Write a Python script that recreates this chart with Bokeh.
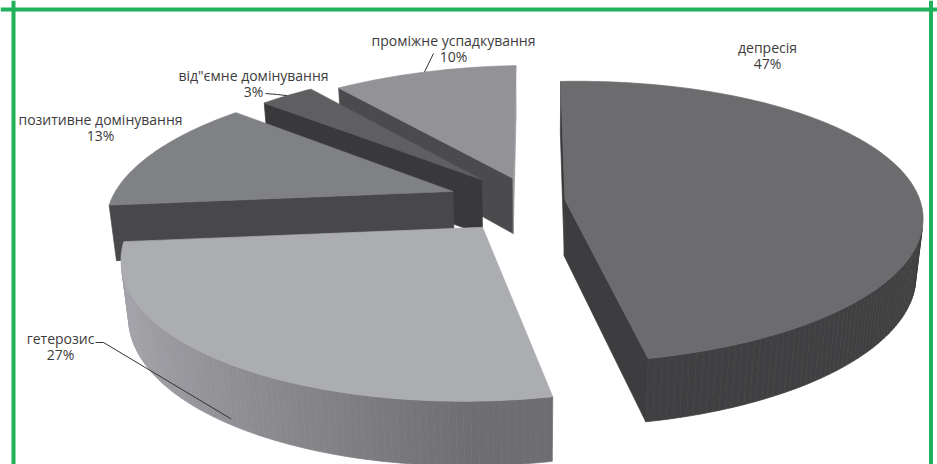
import math
import numpy as np
from bokeh.plotting import figure
from bokeh.models import Range1d, Span
from bokeh.core.properties import value
from bokeh.embed import file_html
from bokeh.resources import INLINE

# ---------------- data ----------------
categories = ["депресія", "гетерозис", "позитивне домінування",
              "від\"ємне домінування", "проміжне успадкування"]
values = [47, 27, 13, 3, 10]

# ---------------- style / layout ----------------
explode = [0.0941, 0.2252, 0.2447, 0.2250, 0.1842]
first_slice_angle = 0.4557
H = 0.2  # pie thickness (radius = 1)
# projective camera (x right, z back, y up) -> screen pixels
CAM = [345.1993, 82.0166, -47.8798, 531.6808,
       -7.9477, -105.5112, -305.1162, 200.9684,
       -0.007937, 0.158721, -0.090142]

top_colors = ["#6c6c6e", "#acadb1", "#808185", "#5f5f62", "#929297"]
side_colors = ["#404042", "#6e6e72", "#4a4a4d", "#3a3a3c", "#4b4b4e"]
start_cut_colors = ["#3a3a3c", "#6e6e72", "#48484b", "#39393b", "#4b4b4e"]
end_cut_colors = ["#3d3d3f", "#6e6e72", "#48484b", "#39393b", "#9a9a9f"]
label_pos = [(767, 47), (60, 338), (100, 119), (253, 75), (453, 40)]
pct_dy = 16
leader_start = {1: [(95, 342), (103, 342)], 3: [(265, 93), (277, 94)], 4: [(433, 53)]}
leader_anchor = {1: (218, -0.9), 3: (None, 0.0), 4: (None, 0.0)}
TEXT_COLOR = "#3c3c3c"
GREEN = "#1fb25a"
FONT_SIZE = "14px"

M = np.array([CAM[0:4], CAM[4:8], CAM[8:11] + [1.0]])
_, _, vt = np.linalg.svd(M)
cc = vt[-1] / vt[-1][3]
CAM_X, CAM_Z, CAM_Y = cc[0], cc[1], cc[2]


def proj(x, z, y):
    w = CAM[8] * x + CAM[9] * z + CAM[10] * y + 1.0
    return ((CAM[0] * x + CAM[1] * z + CAM[2] * y + CAM[3]) / w,
            (CAM[4] * x + CAM[5] * z + CAM[6] * y + CAM[7]) / w)


def hex_rgb(h):
    h = h.lstrip("#")
    return [int(h[i:i + 2], 16) for i in (0, 2, 4)]


def rgb_hex(c):
    return "#%02x%02x%02x" % tuple(max(0, min(255, int(round(v)))) for v in c)


def shade(h, k):
    return rgb_hex([v * k for v in hex_rgb(h)])


total = float(sum(values))
starts, ends = [], []
acc = 0.0
for v in values:
    starts.append(first_slice_angle + 360.0 * acc / total)
    acc += v
    ends.append(first_slice_angle + 360.0 * acc / total)

slices = []
for i, v in enumerate(values):
    a0, a1 = starts[i], ends[i]
    m = math.radians((a0 + a1) / 2)
    e = explode[i]
    cxi, czi = e * math.sin(m), e * math.cos(m)
    n = max(2, int(a1 - a0) + 1)
    thetas = [math.radians(a0 + (a1 - a0) * k / (n - 1)) for k in range(n)]
    gx, gz = (e + 0.6) * math.sin(m), (e + 0.6) * math.cos(m)
    depth = math.sqrt((gx - CAM_X) ** 2 + (gz - CAM_Z) ** 2 + CAM_Y ** 2)
    slices.append(dict(i=i, a0=math.radians(a0), a1=math.radians(a1), cx=cxi, cz=czi,
                       th=thetas, depth=depth))

xs, ys, cols = [], [], []


def add_poly(pts, col):
    xs.append([q[0] for q in pts])
    ys.append([q[1] for q in pts])
    cols.append(col)


for sl in sorted(slices, key=lambda d: -d["depth"]):
    i = sl["i"]
    cx0, cz0 = sl["cx"], sl["cz"]
    # radial cut faces
    for ang, sign, col in ((sl["a0"], -1, start_cut_colors[i]), (sl["a1"], 1, end_cut_colors[i])):
        nx, nz = sign * math.cos(ang), -sign * math.sin(ang)
        if nx * (CAM_X - cx0) + nz * (CAM_Z - cz0) > 0:
            ex, ez = cx0 + math.sin(ang), cz0 + math.cos(ang)
            add_poly([proj(cx0, cz0, 0), proj(ex, ez, 0), proj(ex, ez, -H), proj(cx0, cz0, -H)], col)
    # outer curved side
    th = sl["th"]
    for k in range(len(th) - 1):
        tm = (th[k] + th[k + 1]) / 2
        px, pz = cx0 + math.sin(tm), cz0 + math.cos(tm)
        if math.sin(tm) * (CAM_X - px) + math.cos(tm) * (CAM_Z - pz) > 0:
            kf = 1 + 0.5 * max(0.0, -math.sin(tm))
            pa = (cx0 + math.sin(th[k]), cz0 + math.cos(th[k]))
            pb = (cx0 + math.sin(th[k + 1]), cz0 + math.cos(th[k + 1]))
            add_poly([proj(pa[0], pa[1], 0), proj(pb[0], pb[1], 0),
                      proj(pb[0], pb[1], -H), proj(pa[0], pa[1], -H)], shade(side_colors[i], kf))
    # top face
    pts = [proj(cx0, cz0, 0)] + [proj(cx0 + math.sin(t), cz0 + math.cos(t), 0) for t in th]
    add_poly(pts, top_colors[i])

p = figure(width=937, height=464, x_range=Range1d(0, 937), y_range=Range1d(464, 0),
           output_backend="svg", toolbar_location=None, min_border=0,
           background_fill_color="white", border_fill_color="white")
p.axis.visible = False
p.grid.visible = False
p.outline_line_color = None

p.patches(xs, ys, fill_color=cols, line_color=cols, line_width=0.7)

# leader lines
for i, pts in leader_start.items():
    ang, yf = leader_anchor[i]
    sl = slices[i]
    t = math.radians(ang) if ang is not None else (sl["a0"] + sl["a1"]) / 2
    anc = proj(sl["cx"] + math.sin(t), sl["cz"] + math.cos(t), yf * H)
    path = pts + [anc]
    p.line([q[0] for q in path], [q[1] for q in path], line_color="#333333", line_width=1)

# data labels
for i, name in enumerate(categories):
    lx, ly = label_pos[i]
    p.text([lx], [ly], text=[name], text_align="center", text_baseline="middle",
           text_font=value("Open Sans"), text_font_size=FONT_SIZE, text_color=TEXT_COLOR)
    p.text([lx], [ly + pct_dy], text=["%d%%" % values[i]], text_align="center",
           text_baseline="middle", text_font=value("Open Sans"), text_font_size=FONT_SIZE,
           text_color=TEXT_COLOR)

# green frame (left, top, right)
p.add_layout(Span(location=13, dimension="height", line_color=GREEN, line_width=4))
p.add_layout(Span(location=930.5, dimension="height", line_color=GREEN, line_width=4))
p.add_layout(Span(location=9, dimension="width", line_color=GREEN, line_width=4))

open("out.html", "w").write(file_html(p, INLINE))
